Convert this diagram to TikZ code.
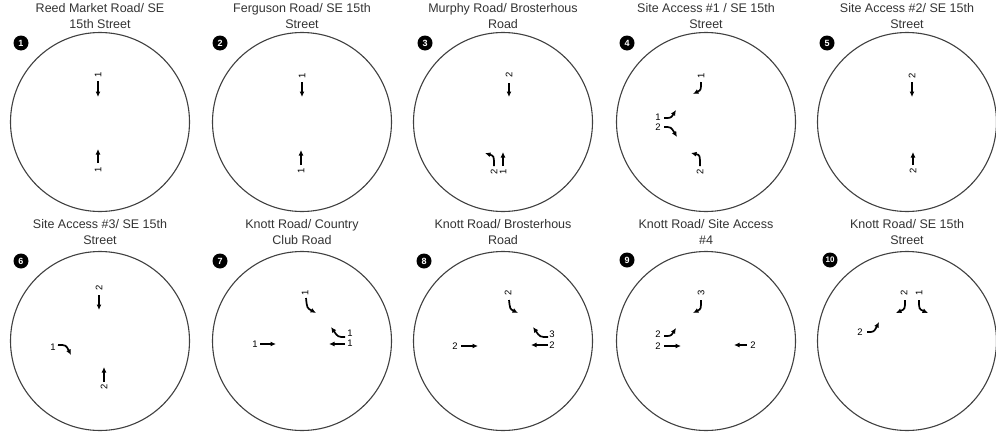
\documentclass[tikz,border=0pt]{standalone}
\usepackage{fontspec}
\setmainfont{Liberation Sans}
\usetikzlibrary{arrows.meta}
\begin{document}
\begin{tikzpicture}[x=1pt,y=-1pt,
  ring/.style={circle,draw=black!75,line width=1.1pt,minimum size=179pt,inner sep=0pt},
  badge/.style={circle,fill=black,text=white,font=\bfseries\fontsize{9}{9}\selectfont,minimum size=15pt,inner sep=0pt},
  ttl/.style={align=center,font=\fontsize{12.5}{16}\selectfont,text=black!80,inner sep=0pt},
  mv/.style={line width=1.7pt,-{Latex[length=5.5pt,width=5pt]}},
  vol/.style={font=\fontsize{9.5}{9.5}\selectfont,inner sep=0pt},
  volv/.style={vol,rotate=90}]
\fill[white] (0,0) rectangle (996,434);
\useasboundingbox (0,0) rectangle (996,434);
% ---------- row 1 ----------
\node[ring] (c1) at (100,122) {};
\node[ring] (c2) at (302,122) {};
\node[ring] (c3) at (503,122) {};
\node[ring] (c4) at (706,122) {};
\node[ring] (c5) at (907,122) {};
\node[ttl] (t1) at (100,16) {Reed Market Road/ SE\\15th Street};
\node[ttl] (t2) at (302,16) {Ferguson Road/ SE 15th\\Street};
\node[ttl] (t3) at (503,16) {Murphy Road/ Brosterhous\\Road};
\node[ttl] (t4) at (706,16) {Site Access \#1 / SE 15th\\Street};
\node[ttl] (t5) at (907,16) {Site Access \#2/ SE 15th\\Street};
\node[badge] (b1) at (21,43) {1};
\node[badge] (b2) at (220,43) {2};
\node[badge] (b3) at (425,43) {3};
\node[badge] (b4) at (627,43) {4};
\node[badge] (b5) at (827,43) {5};
% ---------- row 2 ----------
\node[ring] (c6) at (100,341) {};
\node[ring] (c7) at (302,341) {};
\node[ring] (c8) at (503,341) {};
\node[ring] (c9) at (706,341) {};
\node[ring] (c10) at (907,341) {};
\node[ttl] (t6) at (100,232) {Site Access \#3/ SE 15th\\Street};
\node[ttl] (t7) at (302,232) {Knott Road/ Country\\Club Road};
\node[ttl] (t8) at (503,232) {Knott Road/ Brosterhous\\Road};
\node[ttl] (t9) at (706,232) {Knott Road/ Site Access\\\#4};
\node[ttl] (t10) at (907,232) {Knott Road/ SE 15th\\Street};
\node[badge] (b6) at (21,261) {6};
\node[badge] (b7) at (220,261) {7};
\node[badge] (b8) at (424,261) {8};
\node[badge] (b9) at (627,260) {9};
\node[badge,font=\bfseries\fontsize{8}{8}\selectfont] (b10) at (830,260) {10};
% ---------- 1 ----------
\node[volv] (v1a) at (98,75) {1};
\draw[mv] (98,81) -- (98,97);
\node[volv] (v1b) at (98,170) {1};
\draw[mv] (98,163) -- (98,149);
% ---------- 2 ----------
\node[volv] (v2a) at (302,76) {1};
\draw[mv] (302,82) -- (302,97);
\node[volv] (v2b) at (301,171) {1};
\draw[mv] (301,165) -- (301,150);
% ---------- 3 ----------
\node[volv] (v3a) at (509,75) {2};
\draw[mv] (509,83) -- (509,97);
\node[volv] (v3b) at (503,172) {1};
\draw[mv] (503,166) -- (503,152);
\node[volv] (v3c) at (494,172) {2};
\draw[mv] (494,166) .. controls (494,156) .. (485,153);
% ---------- 4 ----------
\node[volv] (v4a) at (701,76) {1};
\draw[mv] (701,82) .. controls (701,90) .. (693,94);
\node[vol] (v4b) at (658,117) {1};
\draw[mv] (664,118) .. controls (671,118) .. (676,110);
\node[vol] (v4c) at (658,127) {2};
\draw[mv] (664,127) .. controls (671,127) .. (677,137);
\node[volv] (v4d) at (700,172) {2};
\draw[mv] (700,166) .. controls (700,155) .. (691,153);
% ---------- 5 ----------
\node[volv] (v5a) at (912,76) {2};
\draw[mv] (912,82) -- (912,97);
\node[volv] (v5b) at (913,171) {2};
\draw[mv] (913,165) -- (913,152);
% ---------- 6 ----------
\node[volv] (v6a) at (99,288) {2};
\draw[mv] (99,295) -- (99,310);
\node[volv] (v6b) at (104,387) {2};
\draw[mv] (104,382) -- (104,367);
\node[vol] (v6c) at (53,347) {1};
\draw[mv] (58,345) .. controls (66,345) .. (71,355);
% ---------- 7 ----------
\node[volv] (v7a) at (305,293) {1};
\draw[mv] (306,298) .. controls (307,308) .. (316,313);
\node[vol] (v7b) at (350,333) {1};
\draw[mv] (345,337) .. controls (338,337) .. (331,327);
\node[vol] (v7c) at (350,343) {1};
\draw[mv] (345,344) -- (329,344);
\node[vol] (v7d) at (255,344) {1};
\draw[mv] (260,344) -- (276,344);
% ---------- 8 ----------
\node[volv] (v8a) at (508,293) {2};
\draw[mv] (509,300) .. controls (510,309) .. (518,313);
\node[vol] (v8b) at (552,334) {3};
\draw[mv] (548,337) .. controls (540,337) .. (533,327);
\node[vol] (v8c) at (552,345) {2};
\draw[mv] (548,345) -- (531,345);
\node[vol] (v8d) at (455,346) {2};
\draw[mv] (461,346) -- (478,346);
% ---------- 9 ----------
\node[volv] (v9a) at (701,293) {3};
\draw[mv] (701,300) .. controls (701,309) .. (693,313);
\node[vol] (v9b) at (658,334) {2};
\draw[mv] (664,336) .. controls (671,336) .. (676,328);
\node[vol] (v9c) at (658,346) {2};
\draw[mv] (664,346) -- (681,346);
\node[vol] (v9d) at (753,345) {2};
\draw[mv] (747,345) -- (734,345);
% ---------- 10 ----------
\node[volv] (v10a) at (904,293) {2};
\draw[mv] (905,300) .. controls (905,309) .. (896,313);
\node[volv] (v10b) at (919,293) {1};
\draw[mv] (919,300) .. controls (919,309) .. (928,313);
\node[vol] (v10c) at (860,332) {2};
\draw[mv] (867,332) .. controls (874,332) .. (879,322);
\end{tikzpicture}
\end{document}
